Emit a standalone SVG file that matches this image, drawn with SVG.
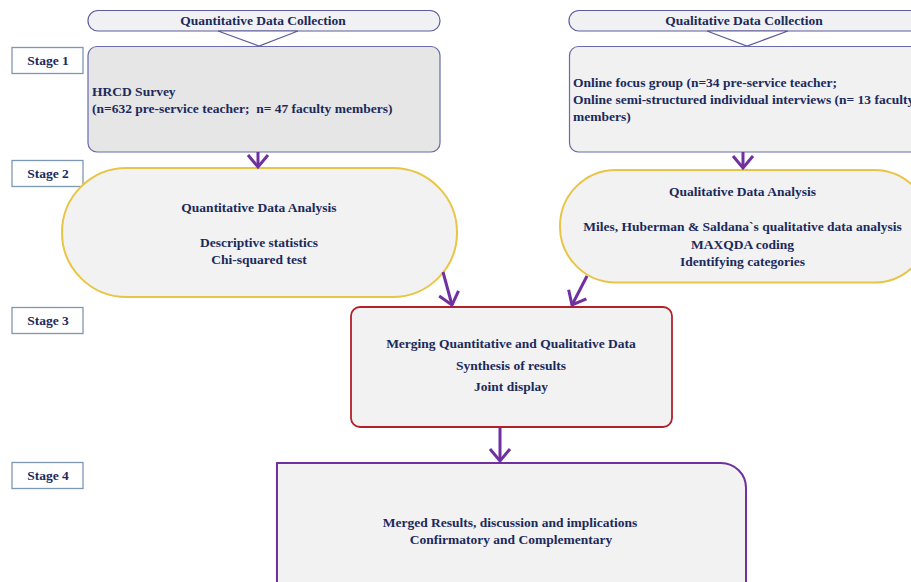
<svg xmlns="http://www.w3.org/2000/svg" width="911" height="582" viewBox="0 0 911 582">
<style>
text{font-family:"Liberation Serif","Times New Roman",serif;font-weight:bold;font-size:13.5px;fill:#1b2a5c}
.c{text-anchor:middle}
.hdr{fill:#f1f1f3;stroke:#5c5c9c;stroke-width:1.2}
.tri{fill:#ffffff;stroke:#5c5c9c;stroke-width:1.2}
.stage{fill:#ffffff;stroke:#7d98b3;stroke-width:1.3}
.coll{stroke:#6a6aa8;stroke-width:1.2}
.pill{fill:#f2f2f2;stroke:#e8c547;stroke-width:2}
.conn{fill:none;stroke:#7030a0;stroke-width:3;marker-end:url(#arr)}
</style>
<defs>
<marker id="arr" markerUnits="userSpaceOnUse" viewBox="-14 -12 16 24" markerWidth="16" markerHeight="24" refX="0" refY="0" orient="auto" overflow="visible">
<path d="M-12,-10 L0,0 L-12,10" fill="none" stroke="#7030a0" stroke-width="3" stroke-linejoin="miter"/>
</marker>
</defs>
<rect width="911" height="582" fill="#ffffff"/>

<g id="stage1"><rect class="stage" x="12" y="47.5" width="71" height="26"/><text class="c" x="48" y="65">Stage 1</text></g>
<g id="stage2"><rect class="stage" x="12" y="160.5" width="71" height="26"/><text class="c" x="48" y="177.5">Stage 2</text></g>
<g id="stage3"><rect class="stage" x="12" y="307.5" width="71" height="26"/><text class="c" x="48" y="324.5">Stage 3</text></g>
<g id="stage4"><rect class="stage" x="12" y="462.5" width="71" height="26"/><text class="c" x="48" y="480">Stage 4</text></g>

<g id="quant-header">
<rect class="hdr" x="88" y="10.5" width="352" height="20.5" rx="10" ry="10"/>
<polygon class="tri" points="218,31 298,31 259,46"/>
<text class="c" x="263" y="25">Quantitative Data Collection</text>
</g>
<g id="qual-header">
<rect class="hdr" x="569" y="10.5" width="370" height="20.5" rx="10" ry="10"/>
<polygon class="tri" points="707,31 788,31 747,46"/>
<text class="c" x="744" y="25">Qualitative Data Collection</text>
</g>

<g id="hrcd">
<rect class="coll" x="88" y="46.5" width="352" height="105.5" rx="9" ry="9" fill="#e6e6e6"/>
<text x="92" y="96">HRCD Survey</text>
<text x="92" y="113">(n=632 pre-service teacher;&#160; n= 47 faculty members)</text>
</g>
<g id="online">
<rect class="coll" x="569.5" y="46.5" width="360" height="105.5" rx="9" ry="9" fill="#f1f1f2"/>
<text x="573" y="87">Online focus group (n=34 pre-service teacher;</text>
<text x="573" y="104">Online semi-structured individual interviews (n= 13 faculty</text>
<text x="573" y="121">members)</text>
</g>

<g id="quant-analysis">
<rect class="pill" x="62" y="168" width="395" height="129" rx="64.5" ry="64.5"/>
<text class="c" x="259" y="212">Quantitative Data Analysis</text>
<text class="c" x="259" y="247">Descriptive statistics</text>
<text class="c" x="259" y="264">Chi-squared test</text>
</g>
<g id="qual-analysis">
<rect class="pill" x="560" y="170" width="370" height="112.5" rx="56" ry="56"/>
<text class="c" x="742.5" y="196">Qualitative Data Analysis</text>
<text class="c" x="742.5" y="231">Miles, Huberman &amp; Saldana`s qualitative data analysis</text>
<text class="c" x="742.5" y="249">MAXQDA coding</text>
<text class="c" x="742.5" y="266">Identifying categories</text>
</g>

<g id="merge">
<rect x="351" y="307" width="321" height="120" rx="9" ry="9" fill="#f2f2f2" stroke="#b3202a" stroke-width="1.8"/>
<text class="c" x="511" y="348">Merging Quantitative and Qualitative Data</text>
<text class="c" x="511" y="370">Synthesis of results</text>
<text class="c" x="511" y="391">Joint display</text>
</g>

<g id="results">
<path d="M277,463 H721 A25,25 0 0 1 746,488 V590 H277 Z" fill="#f2f2f2" stroke="#7030a0" stroke-width="2"/>
<text class="c" x="510" y="527">Merged Results, discussion and implications</text>
<text class="c" x="511" y="544">Confirmatory and Complementary</text>
</g>

<g id="connectors">
<line class="conn" x1="258" y1="152" x2="258" y2="167"/>
<line class="conn" x1="743" y1="152" x2="743" y2="168"/>
<line class="conn" x1="443" y1="272" x2="452" y2="305"/>
<line class="conn" x1="587" y1="276" x2="572" y2="305"/>
<line class="conn" x1="500" y1="427" x2="500" y2="461"/>
</g>
</svg>
